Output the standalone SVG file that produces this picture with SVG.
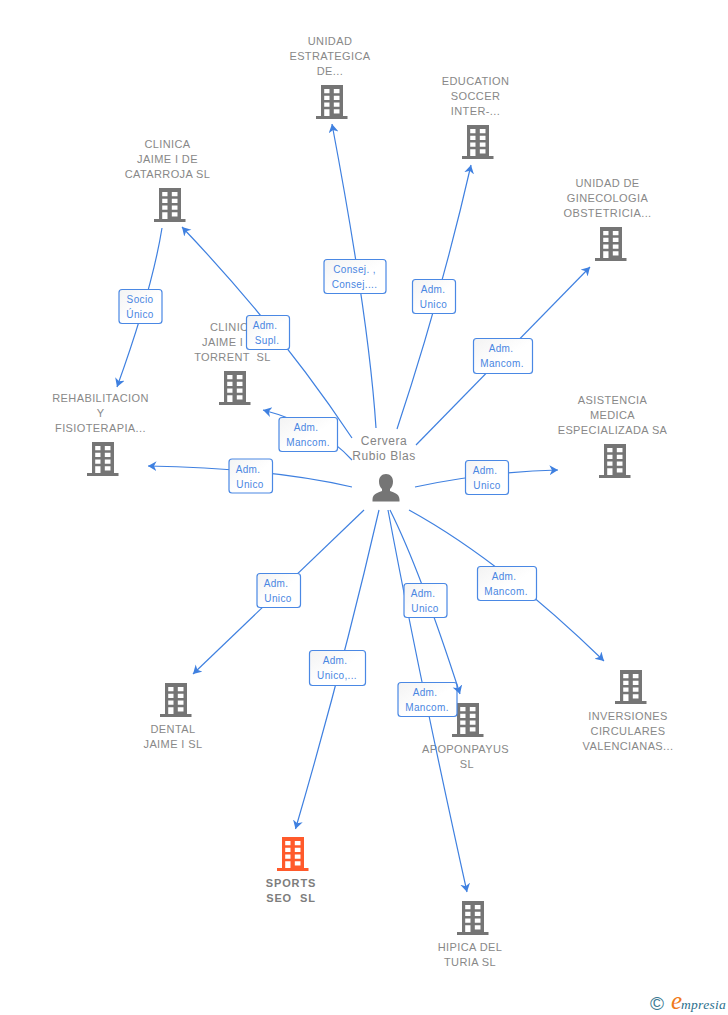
<svg xmlns="http://www.w3.org/2000/svg" width="728" height="1015" viewBox="0 0 728 1015">
<style>
text{font-family:"Liberation Sans",Arial,sans-serif;white-space:pre}
.n{font-size:11px;fill:#888;text-anchor:middle;letter-spacing:.4px}
.b{font-weight:bold;letter-spacing:.9px;fill:#7d7d7d}
.p{font-size:12px;fill:#858585;text-anchor:middle;letter-spacing:.55px}
.l{font-size:10px;fill:#4a86e2;text-anchor:middle;letter-spacing:.35px}
.e{fill:none;stroke:#3f80e0;stroke-width:1.2;marker-end:url(#arrow)}
.box{fill:url(#bg);stroke:#4a88e4;stroke-width:1.2}
</style>
<defs>
<linearGradient id="bg" x1="0" y1="0" x2="1" y2="1"><stop offset="0" stop-color="#f3f3f3"/><stop offset=".55" stop-color="#fff"/></linearGradient>
<marker id="arrow" markerUnits="userSpaceOnUse" markerWidth="10" markerHeight="11" refX="8.500" refY="5" orient="auto"><path d="M0 0L8.500 5L0 10L2.500 5Z" fill="#3f80e0"/></marker>
<symbol id="bld" viewBox="0 0 32 35" width="32" height="35" overflow="visible">
<path fill-rule="evenodd" d="M5 0H27V31H31.500V34H0V31H5ZM8.200 4V8.300H13.500V4ZM17.800 4V8.300H23.500V4ZM8.200 10.800V15H13.500V10.800ZM17.800 10.800V15H23.500V10.800ZM8.200 17.500V21.700H13.500V17.500ZM17.800 17.500V21.700H23.500V17.500ZM8.200 24.200V31H13.500V24.200ZM17.800 24.200V28.500H23.500V24.200Z"/>
</symbol>
</defs>
<rect width="728" height="1015" fill="#fff"/>

<g id="n-unidad-estrategica" fill="#757575"><use href="#bld" x="316" y="85"/><text class="n" x="330" y="45">UNIDAD</text><text class="n" x="330" y="60">ESTRATEGICA</text><text class="n" x="330" y="75">DE...</text></g>
<g id="n-education" fill="#757575"><use href="#bld" x="462" y="125"/><text class="n" x="475.500" y="85">EDUCATION</text><text class="n" x="475.500" y="100">SOCCER</text><text class="n" x="475.500" y="115">INTER-...</text></g>
<g id="n-clinica-catarroja" fill="#757575"><use href="#bld" x="154" y="188"/><text class="n" x="167.500" y="148">CLINICA</text><text class="n" x="167.500" y="163">JAIME I DE</text><text class="n" x="167.500" y="178">CATARROJA SL</text></g>
<g id="n-unidad-ginecologia" fill="#757575"><use href="#bld" x="595" y="227"/><text class="n" x="607.500" y="187">UNIDAD DE</text><text class="n" x="607.500" y="202">GINECOLOGIA</text><text class="n" x="607.500" y="217">OBSTETRICIA...</text></g>
<g id="n-clinica-torrent" fill="#757575"><use href="#bld" x="219" y="371"/><text class="n" style="text-anchor:start" x="210" y="331">CLINIC</text><text class="n" style="text-anchor:start" x="202" y="346">JAIME I</text><text class="n" x="232.500" y="361">TORRENT  SL</text></g>
<g id="n-rehabilitacion" fill="#757575"><use href="#bld" x="87" y="442"/><text class="n" x="100.500" y="402">REHABILITACION</text><text class="n" x="100.500" y="417">Y</text><text class="n" x="100.500" y="432">FISIOTERAPIA...</text></g>
<g id="n-asistencia" fill="#757575"><use href="#bld" x="599" y="444"/><text class="n" x="612.500" y="404">ASISTENCIA</text><text class="n" x="612.500" y="419">MEDICA</text><text class="n" x="612.500" y="434">ESPECIALIZADA SA</text></g>
<g id="n-dental" fill="#757575"><use href="#bld" x="160" y="683"/><text class="n" x="173" y="733">DENTAL</text><text class="n" x="173" y="748">JAIME I SL</text></g>
<g id="n-inversiones" fill="#757575"><use href="#bld" x="615" y="670"/><text class="n" x="628" y="720">INVERSIONES</text><text class="n" x="628" y="735">CIRCULARES</text><text class="n" x="628" y="750">VALENCIANAS...</text></g>
<g id="n-apoponpayus" fill="#757575"><use href="#bld" x="452" y="703"/><text class="n" x="465.500" y="753">APOPONPAYUS</text><text class="n" x="467" y="768">SL</text></g>
<g id="n-sports-seo" fill="#ff5a2b"><use href="#bld" x="277" y="837"/><text class="n b" x="291" y="887">SPORTS</text><text class="n b" x="291" y="902">SEO  SL</text></g>
<g id="n-hipica" fill="#757575"><use href="#bld" x="457" y="901"/><text class="n" x="470" y="951">HIPICA DEL</text><text class="n" x="470" y="966">TURIA SL</text></g>

<g id="n-person"><text class="p" x="384" y="445">Cervera</text><text class="p" x="384" y="460">Rubio Blas</text>
<path fill="#757575" d="M386 474c4.500 0 7 3.400 7 7.500 0 3-1 5.500-3 7.500v2c3 1.500 9.500 2.500 9.500 8.500v2h-27v-2c0-6 6.500-7 9.500-8.500v-2c-2-2-3-4.500-3-7.500 0-4.100 2.500-7.500 7-7.500Z"/></g>

<g id="connectors">
<g><path class="e" d="M376 428Q369 320 332 124"/><rect class="box" x="324" y="259.500" width="62" height="34" rx="3"/><text class="l" x="354.500" y="273">Consej. ,</text><text class="l" x="354.500" y="288">Consej....</text></g>
<g><path class="e" d="M397 429Q440 300 471 165"/><rect class="box" x="412.500" y="279.500" width="43" height="34" rx="3"/><text class="l" x="433" y="293">Adm.</text><text class="l" x="433.500" y="308">Unico</text></g>
<g><path class="e" d="M416 445L590 267"/><rect class="box" x="473.500" y="338.500" width="59" height="35" rx="3"/><text class="l" x="501" y="352">Adm.</text><text class="l" x="502" y="367">Mancom.</text></g>
<g><path class="e" d="M415 487Q485 472 558 470"/><rect class="box" x="465.500" y="460.500" width="43" height="34" rx="3"/><text class="l" x="485" y="474">Adm.</text><text class="l" x="487" y="489">Unico</text></g>
<g><path class="e" d="M409 510Q500 560 604 661"/><rect class="box" x="477.500" y="566.500" width="59" height="34" rx="3"/><text class="l" x="504" y="580">Adm.</text><text class="l" x="506" y="595">Mancom.</text></g>
<g><path class="e" d="M388 510Q420 680 467 892"/><rect class="box" x="398" y="682.500" width="59" height="34" rx="3"/><text class="l" x="425" y="696">Adm.</text><text class="l" x="427" y="711">Mancom.</text></g>
<g><path class="e" d="M390 510Q420 570 460 694"/><rect class="box" x="404" y="583.500" width="43" height="34" rx="3"/><text class="l" x="423" y="597">Adm.</text><text class="l" x="425" y="612">Unico</text></g>
<g><path class="e" d="M379 510Q342 670 295.500 829"/><rect class="box" x="309.500" y="650.500" width="56" height="35" rx="3"/><text class="l" x="335" y="664">Adm.</text><text class="l" x="337" y="679">Unico,...</text></g>
<g><path class="e" d="M364 510L193 674"/><rect class="box" x="257" y="573.500" width="43.500" height="34" rx="3"/><text class="l" x="276" y="587">Adm.</text><text class="l" x="278" y="602">Unico</text></g>
<g><path class="e" d="M352 487Q270 468 148 466"/><rect class="box" x="229" y="459" width="43.500" height="34" rx="3"/><text class="l" x="248" y="473">Adm.</text><text class="l" x="250" y="488">Unico</text></g>
<g><path class="e" d="M352 460Q320 425 263 410"/><rect class="box" x="279" y="417.500" width="58.500" height="34" rx="3"/><text class="l" x="306" y="431">Adm.</text><text class="l" x="308" y="446">Mancom.</text></g>
<g><path class="e" d="M352 438Q280 330 182 227"/><rect class="box" x="246.500" y="315.500" width="43" height="34" rx="3"/><text class="l" x="265" y="329">Adm.</text><text class="l" x="267" y="344">Supl.</text></g>
<g><path class="e" d="M162 228Q152 290 117 387"/><rect class="box" x="119" y="289.500" width="43" height="34" rx="3"/><text class="l" x="140" y="303">Socio</text><text class="l" x="140" y="318">Único</text></g>
</g>

<g id="logo"><text x="650" y="1010" font-size="19" fill="#3b7a93">©</text><text x="671" y="1009" font-size="25" font-style="italic" fill="#f07a1a" style="font-family:'Liberation Serif',serif">e</text><text x="681" y="1009" font-size="13.500" font-style="italic" fill="#2b6f8c" style="font-family:'Liberation Serif',serif" letter-spacing=".3">mpresia</text></g>
</svg>
